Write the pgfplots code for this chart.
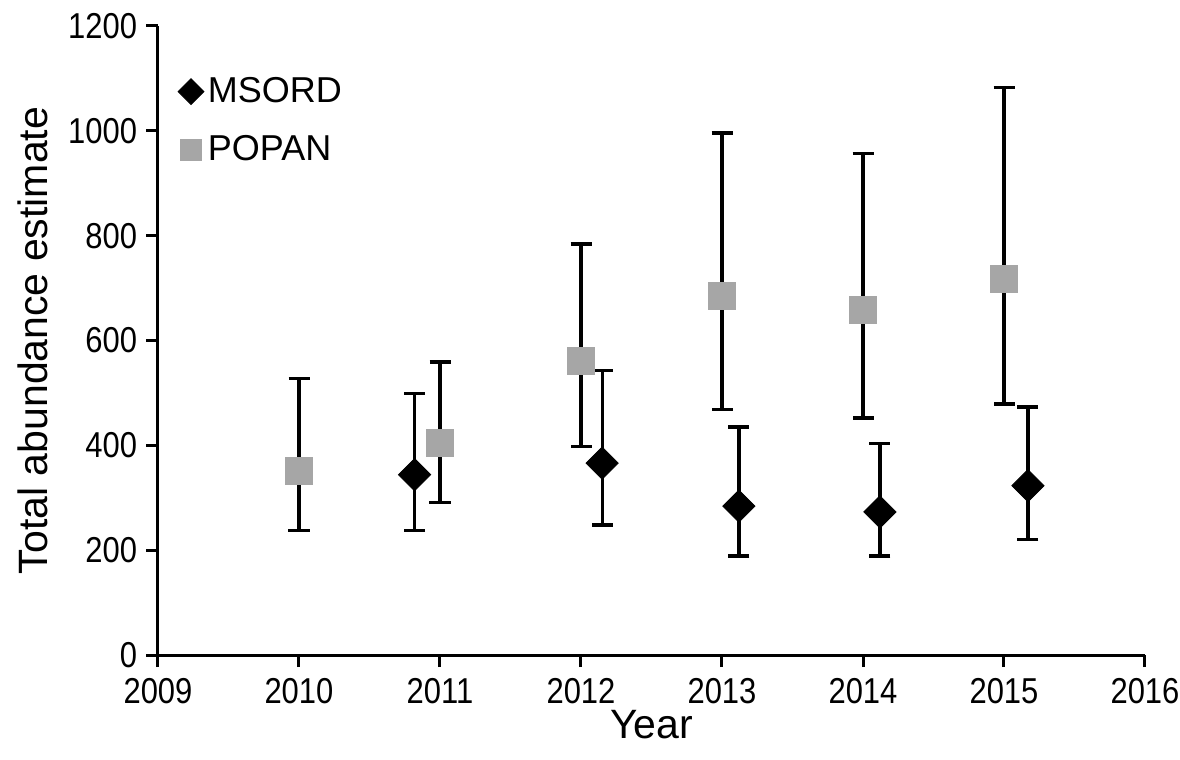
\documentclass[border=0pt]{standalone}
\usepackage{fontspec}
\setmainfont{Liberation Sans}
\newfontfamily\condensed[FakeStretch=0.86]{Liberation Sans}
\usepackage{pgfplots}
\pgfplotsset{compat=1.18}
\usepackage{pgfplotstable}
\usetikzlibrary{calc}
\definecolor{popgray}{RGB}{166,166,166}

\pgfplotstableread{
x       y    ep   em
2010    352  175  115
2011    405  154  114
2012    562  222  164
2013    685  311  217
2014    658  299  206
2015    718  364  239
}\popan

\pgfplotstableread{
x        y    ep   em
2010.82  344  155  107
2012.15  366  177  118
2013.12  284  151  95
2014.12  273  131  84
2015.17  323  150  102
}\msord

\begin{document}
\begin{tikzpicture}
\begin{axis}[
  scale only axis,
  width=493.5pt, height=314.5pt,
  xmin=2009, xmax=2016,
  ymin=0, ymax=1200,
  xtick={2009,2010,...,2016},
  ytick={0,200,...,1200},
  axis lines*=left,
  axis line style={line width=1.5pt},
  tick style={line width=1.5pt, black},
  tick align=outside,
  major tick length=6pt,
  /pgf/number format/1000 sep={},
  /pgf/number format/assume math mode=true,
  tick label style={font=\condensed\fontsize{18}{21}\selectfont},
  xticklabel style={yshift=-2pt},
  yticklabel style={xshift=-1pt},
  xlabel={Year},
  ylabel={Total abundance estimate},
  label style={font=\fontsize{20.5}{24}\selectfont},
  xlabel style={yshift=3.5pt},
  ylabel style={yshift=3pt},
  legend style={draw=none, fill=none, at={(0.02,0.925)}, anchor=north west,
    font=\fontsize{18}{21}\selectfont, row sep=11pt, inner sep=0pt},
  legend cell align=left,
  legend image code/.code={\draw[#1, every mark/.append style={scale=0.8}] plot coordinates {(0.2cm,0cm)};},
  clip=false,
]
\coordinate (sw) at (rel axis cs:0,0);
\coordinate (ne) at (rel axis cs:1,1);
\addplot[only marks, mark=square*, mark size=5.7pt,
  mark options={rotate=45, fill=black, draw=black},
  error bars/.cd, y dir=both, y explicit,
  error bar style={line width=1.6pt, black},
  error mark options={rotate=90, mark size=5.25pt, line width=1.6pt, black}]
  table[x=x, y=y, y error plus=ep, y error minus=em]{\msord};
\addlegendentry{MSORD}
\addplot[only marks, mark=square*, mark size=6.75pt,
  mark options={fill=popgray, draw=popgray},
  error bars/.cd, y dir=both, y explicit,
  error bar style={line width=1.6pt, black},
  error mark options={rotate=90, mark size=5.25pt, line width=1.6pt, black}]
  table[x=x, y=y, y error plus=ep, y error minus=em]{\popan};
\addlegendentry{POPAN}
\end{axis}
\pgfresetboundingbox
\path ($(sw)+(-79pt,-52pt)$) rectangle ($(ne)+(17.5pt,13pt)$);
\end{tikzpicture}
\end{document}
